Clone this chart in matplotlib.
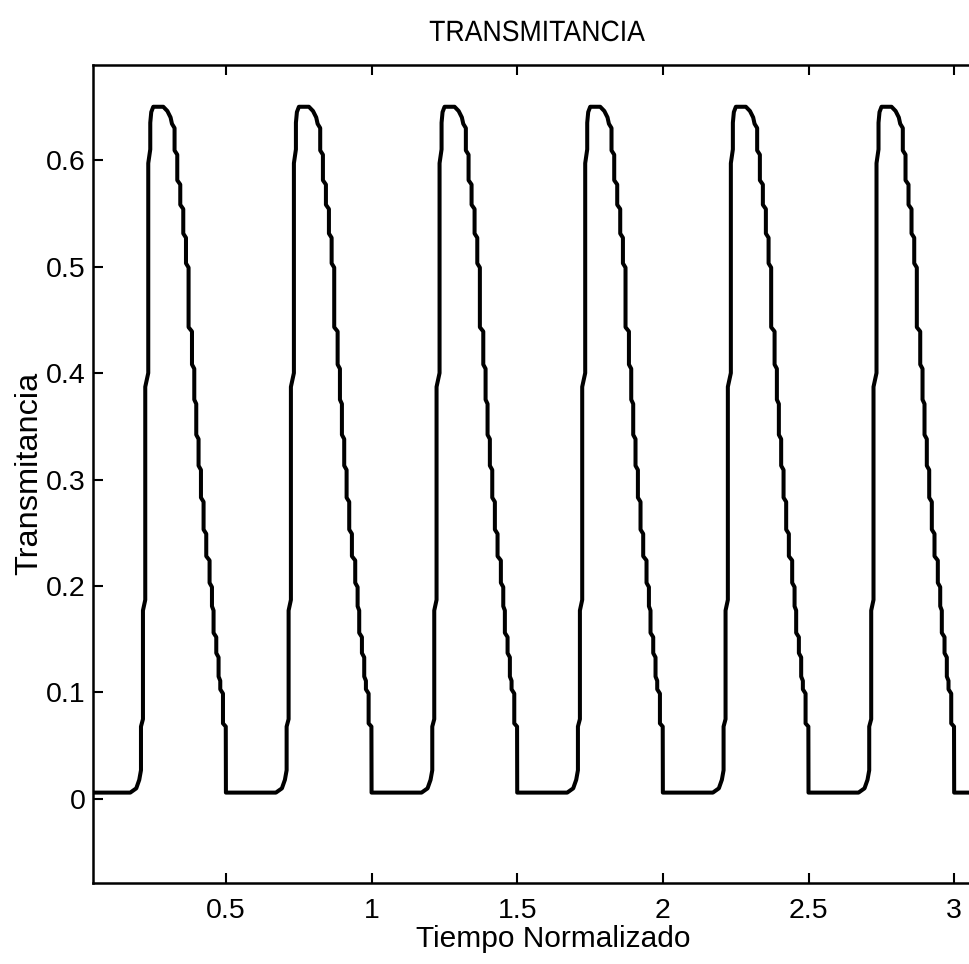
import matplotlib
matplotlib.use("Agg")
import matplotlib.pyplot as plt
from matplotlib.patheffects import AbstractPathEffect
from matplotlib.transforms import Affine2D

# One period of the transmittance pulse: time offset within the period and value
pulse_t = [0.0, 0.1716, 0.1922, 0.2025, 0.2084, 0.2084, 0.2152, 0.2152, 0.2231,
           0.2231, 0.2334, 0.2334, 0.2403, 0.2403, 0.2437, 0.2506,
           0.2849, 0.2990, 0.3100, 0.3148,
           0.3237, 0.3237, 0.3330, 0.3330, 0.3433, 0.3433, 0.3536, 0.3536,
           0.3629, 0.3629, 0.3718, 0.3718, 0.3835, 0.3835, 0.3914, 0.3914,
           0.3982, 0.3982, 0.4061, 0.4061, 0.4143, 0.4143, 0.4233, 0.4233,
           0.4325, 0.4325, 0.4439, 0.4439, 0.4521, 0.4521, 0.4576, 0.4576,
           0.4669, 0.4669, 0.4748, 0.4748, 0.4806, 0.4806, 0.4899, 0.4899,
           0.4995]
pulse_v = [0.006, 0.006, 0.010, 0.018, 0.027, 0.068, 0.075, 0.177, 0.187,
           0.387, 0.400, 0.597, 0.610, 0.635, 0.645, 0.650,
           0.650, 0.646, 0.640, 0.634,
           0.630, 0.609, 0.605, 0.581, 0.577, 0.558, 0.554, 0.531,
           0.527, 0.503, 0.499, 0.443, 0.439, 0.408, 0.404, 0.375,
           0.371, 0.342, 0.338, 0.313, 0.309, 0.283, 0.279, 0.253,
           0.249, 0.228, 0.224, 0.203, 0.199, 0.181, 0.177, 0.156,
           0.152, 0.137, 0.133, 0.115, 0.111, 0.103, 0.099, 0.071,
           0.068]

# Start time of each period
period_starts = [0.0, 0.5, 1.0, 1.5, 2.0, 2.5, 3.0]

x_ticks = [0.5, 1.0, 1.5, 2.0, 2.5, 3.0]
x_tick_labels = ["0.5", "1", "1.5", "2", "2.5", "3"]
y_ticks = [0.0, 0.1, 0.2, 0.3, 0.4, 0.5, 0.6]
y_tick_labels = ["0", "0.1", "0.2", "0.3", "0.4", "0.5", "0.6"]

t = []
v = []
for start in period_starts:
    t.extend(start + dt for dt in pulse_t)
    v.extend(pulse_v)


class VerticalStretch(AbstractPathEffect):
    """Draw text glyphs stretched vertically about their baseline."""

    def __init__(self, factor):
        super().__init__()
        self.factor = factor

    def draw_path(self, renderer, gc, tpath, affine, rgbFace=None):
        ext = tpath.get_extents(affine)
        base = ext.y0
        stretched = affine + Affine2D().translate(0, -base).scale(1, self.factor).translate(0, base)
        renderer.draw_path(gc, tpath, stretched, rgbFace)


plt.rcParams["font.family"] = ["Liberation Sans", "DejaVu Sans"]

W, H = 969, 964
fig = plt.figure(figsize=(W / 100, H / 100), dpi=100)
left_px, right_px, top_px, bottom_px = 92.5, 1015.0, 64.7, 882.7
ax = fig.add_axes([left_px / W, 1 - bottom_px / H,
                   (right_px - left_px) / W, (bottom_px - top_px) / H])

ax.plot(t, v, color="black", linewidth=2.9, solid_joinstyle="round")

x_min = 0.042
x_max = x_min + (right_px - left_px) / 291.3
ax.set_xlim(x_min, x_max)
ax.set_ylim(-0.0786, 0.6895)
ax.set_xticks(x_ticks)
ax.set_xticklabels(x_tick_labels)
ax.set_yticks(y_ticks)
ax.set_yticklabels(y_tick_labels)

ax.tick_params(direction="in", length=7, width=1.5, top=True, right=True,
               labelsize=20.5)
ax.tick_params(axis="x", pad=11)
ax.tick_params(axis="y", pad=5)
for sp in ax.spines.values():
    sp.set_linewidth(1.8)

# Title centred over the visible part of the plot
fig.text(536.5 / W, 1 - 41 / H, "TRANSMITANCIA", fontsize=19.2,
         ha="center", va="baseline", path_effects=[VerticalStretch(1.1)])
ax.set_xlabel("Tiempo Normalizado", fontsize=21.5, labelpad=0.5)
ax.set_ylabel("Transmitancia", fontsize=23.4, labelpad=1)

fig.savefig("out.png", dpi=100)
